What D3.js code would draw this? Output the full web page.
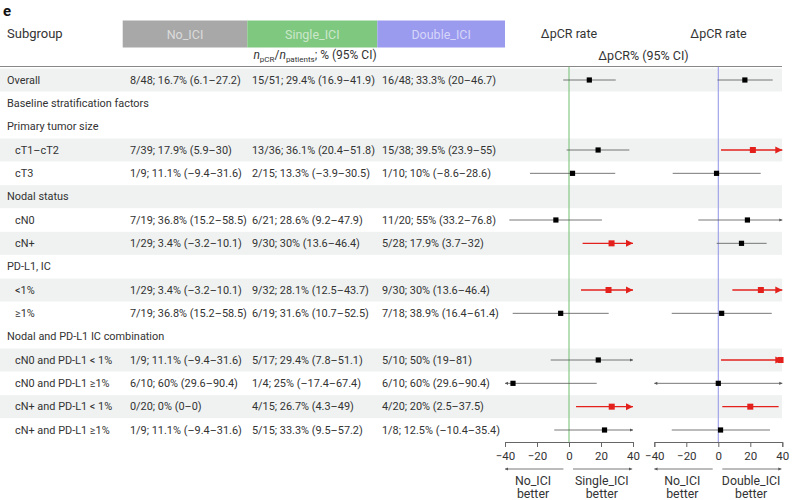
<!DOCTYPE html>
<html>
<head>
<meta charset="utf-8">
<script src="https://cdn.jsdelivr.net/npm/d3@7"></script>
<style>
  body { margin: 0; background: #fff; }
  svg { font-family: Roboto, "Noto Sans", sans-serif; }
</style>
</head>
<body>
<div id="chart"></div>
<script>
let labels = ['Overall', 'Baseline stratification factors', 'Primary tumor size', 'cT1–cT2', 'cT3',
  'Nodal status', 'cN0', 'cN+', 'PD-L1, IC', '<1%', '≥1%', 'Nodal and PD-L1 IC combination',
  'cN0 and PD-L1 < 1%', 'cN0 and PD-L1 ≥1%', 'cN+ and PD-L1 < 1%', 'cN+ and PD-L1 ≥1%'];
let indented = [0, 0, 0, 1, 1, 0, 1, 1, 0, 1, 1, 0, 1, 1, 1, 1];
let shaded = [1, 0, 0, 1, 0, 1, 0, 1, 0, 1, 0, 0, 1, 0, 1, 0];

let groups = ['No_ICI', 'Single_ICI', 'Double_ICI'];

let noIci = ['8/48; 16.7% (6.1–27.2)', '', '', '7/39; 17.9% (5.9–30)', '1/9; 11.1% (–9.4–31.6)', '',
  '7/19; 36.8% (15.2–58.5)', '1/29; 3.4% (–3.2–10.1)', '', '1/29; 3.4% (–3.2–10.1)', '7/19; 36.8% (15.2–58.5)', '',
  '1/9; 11.1% (–9.4–31.6)', '6/10; 60% (29.6–90.4)', '0/20; 0% (0–0)', '1/9; 11.1% (–9.4–31.6)'];
let singleIci = ['15/51; 29.4% (16.9–41.9)', '', '', '13/36; 36.1% (20.4–51.8)', '2/15; 13.3% (–3.9–30.5)', '',
  '6/21; 28.6% (9.2–47.9)', '9/30; 30% (13.6–46.4)', '', '9/32; 28.1% (12.5–43.7)', '6/19; 31.6% (10.7–52.5)', '',
  '5/17; 29.4% (7.8–51.1)', '1/4; 25% (–17.4–67.4)', '4/15; 26.7% (4.3–49)', '5/15; 33.3% (9.5–57.2)'];
let doubleIci = ['16/48; 33.3% (20–46.7)', '', '', '15/38; 39.5% (23.9–55)', '1/10; 10% (–8.6–28.6)', '',
  '11/20; 55% (33.2–76.8)', '5/28; 17.9% (3.7–32)', '', '9/30; 30% (13.6–46.4)', '7/18; 38.9% (16.4–61.4)', '',
  '5/10; 50% (19–81)', '6/10; 60% (29.6–90.4)', '4/20; 20% (2.5–37.5)', '1/8; 12.5% (–10.4–35.4)'];

// delta pCR (est, lo, hi), null for heading rows
let singleDiff = [[12.7, -3.6, 29.2], null, null, [18.2, -1.5, 37.7], [2.2, -24.4, 28.9], null,
  [-8.2, -37.3, 20.6], [26.6, 8.5, 44.7], null, [24.7, 7.5, 41.9], [-5.2, -35.2, 24.8], null,
  [18.3, -11.4, 48], [-35, -87.3, 17.3], [26.7, 4.4, 49], [22.2, -9.2, 53.6]];
let doubleDiff = [[16.6, -0.5, 34], null, null, [21.6, 1.7, 41.5], [-1.1, -28.5, 26.5], null,
  [18.2, -12.5, 48.9], [14.5, -1, 30.2], null, [26.6, 8.8, 44.4], [2.1, -29.1, 33.4], null,
  [38.9, 1.7, 76], [0, -58, 58], [20, 2.5, 37.7], [1.4, -29.1, 32.3]];

let ticks = [-40, -20, 0, 20, 40];

let width = 800;
let height = 500;
let txt = '#333';

let svg = d3.select('#chart').append('svg')
  .attr('width', width)
  .attr('height', height);

let y = d3.scalePoint().domain(d3.range(labels.length)).range([80, 430]);
let rowH = 23;

// shaded bands
svg.append('g').selectAll('rect')
  .data(d3.range(labels.length).filter(i => shaded[i]))
  .enter().append('rect')
  .attr('x', 0)
  .attr('y', i => y(i) - rowH / 2)
  .attr('width', 782)
  .attr('height', rowH)
  .attr('fill', '#eff2f1');

svg.append('line')
  .attr('x1', 0).attr('x2', 782)
  .attr('y1', 66.5).attr('y2', 66.5)
  .attr('stroke', '#888').attr('stroke-width', 1);

svg.append('text')
  .attr('x', 3).attr('y', 16)
  .attr('font-size', 15).attr('font-weight', 'bold')
  .attr('fill', '#111')
  .text('e');

svg.append('text')
  .attr('x', 7).attr('y', 38)
  .attr('font-size', 13).attr('fill', txt)
  .text('Subgroup');

// group header boxes
let boxX = d3.scaleOrdinal().domain(groups).range([122.7, 247.3, 377.3]);
let boxW = {No_ICI: 124.6, Single_ICI: 130, Double_ICI: 127.7};
let boxC = d3.scaleOrdinal().domain(groups).range(['#a8a8a8', '#7fc87f', '#9a9aef']);

let hdr = svg.append('g').selectAll('g')
  .data(groups)
  .enter().append('g');
hdr.append('rect')
  .attr('x', d => boxX(d))
  .attr('y', 20.5)
  .attr('width', d => boxW[d])
  .attr('height', 27)
  .attr('fill', d => boxC(d));
hdr.append('text')
  .attr('x', d => boxX(d) + boxW[d] / 2)
  .attr('y', 38.5)
  .attr('text-anchor', 'middle')
  .attr('font-size', 12.5)
  .attr('fill', '#fff')
  .attr('fill-opacity', 0.6)
  .text(d => d);

let sub = svg.append('text')
  .attr('x', 315).attr('y', 59)
  .attr('text-anchor', 'middle')
  .attr('font-size', 12).attr('fill', txt);
sub.append('tspan').attr('font-style', 'italic').text('n');
sub.append('tspan').attr('font-size', 8).attr('dy', 3).text('pCR');
sub.append('tspan').attr('dy', -3).text('/');
sub.append('tspan').attr('font-style', 'italic').text('n');
sub.append('tspan').attr('font-size', 8).attr('dy', 3).text('patients');
sub.append('tspan').attr('dy', -3).text('; % (95% CI)');

svg.append('text')
  .attr('x', 569).attr('y', 37.5)
  .attr('text-anchor', 'middle').attr('font-size', 12.5).attr('fill', txt)
  .text('ΔpCR rate');
svg.append('text')
  .attr('x', 718.5).attr('y', 37.5)
  .attr('text-anchor', 'middle').attr('font-size', 12.5).attr('fill', txt)
  .text('ΔpCR rate');
svg.append('text')
  .attr('x', 643.5).attr('y', 59.5)
  .attr('text-anchor', 'middle').attr('font-size', 12.5).attr('fill', txt)
  .text('ΔpCR% (95% CI)');

// table text
let rows = svg.append('g').selectAll('g')
  .data(labels)
  .enter().append('g')
  .attr('transform', (d, i) => 'translate(0,' + (y(i) + 3.8) + ')')
  .attr('font-size', 10.9)
  .attr('fill', txt);
rows.append('text')
  .attr('x', (d, i) => indented[i] ? 15 : 7)
  .text(d => d);
rows.append('text').attr('x', 130).text((d, i) => noIci[i]);
rows.append('text').attr('x', 252).text((d, i) => singleIci[i]);
rows.append('text').attr('x', 382).text((d, i) => doubleIci[i]);

// forest panels
let red = '#e3201c';
let panels = [
  {data: singleDiff, x: d3.scaleLinear().domain([-40, 40]).range([505, 633]), ref: '#7cc47c',
    left: 'No_ICI', right: 'Single_ICI'},
  {data: doubleDiff, x: d3.scaleLinear().domain([-40, 40]).range([654.3, 782.3]), ref: '#9a9aea',
    left: 'No_ICI', right: 'Double_ICI'},
];

svg.append('defs').append('marker')
  .attr('id', 'ah')
  .attr('viewBox', '0 0 10 10')
  .attr('refX', 10).attr('refY', 5)
  .attr('markerWidth', 4).attr('markerHeight', 4)
  .attr('orient', 'auto-start-reverse')
  .append('path')
  .attr('d', 'M0,0L10,5L0,10Z')
  .attr('fill', '#555');

panels.forEach(function(p) {
  let x = p.x;
  let g = svg.append('g');

  g.append('line')
    .attr('x1', x(0)).attr('x2', x(0))
    .attr('y1', 67).attr('y2', 442)
    .attr('stroke', p.ref).attr('stroke-width', 1.1);

  let axis = d3.axisBottom(x)
    .tickValues(ticks)
    .tickSize(5)
    .tickSizeOuter(5)
    .tickPadding(5);
  let ax = g.append('g')
    .attr('transform', 'translate(0,442)')
    .call(axis);
  ax.selectAll('path, line').attr('stroke', '#666');
  ax.selectAll('text').attr('font-size', 11.5).attr('fill', txt)
    .attr('font-family', 'Roboto, "Noto Sans", sans-serif');

  let items = p.data.map((d, i) => ({d: d, i: i})).filter(o => o.d);
  items.forEach(function(o) {
    let est = o.d[0], lo = o.d[1], hi = o.d[2];
    let sig = lo > 0;
    let col = sig ? red : '#555';
    let cy = y(o.i);
    let x1 = x(Math.max(lo, -40)), x2 = x(Math.min(hi, 40));
    g.append('line')
      .attr('x1', x1).attr('x2', x2)
      .attr('y1', cy).attr('y2', cy)
      .attr('stroke', col)
      .attr('stroke-width', sig ? 1.3 : 0.8);
    let al = sig ? 7 : 3, ah = sig ? 3.5 : 1.6;
    if (hi > 40) {
      g.append('path')
        .attr('d', 'M' + x2 + ',' + cy + 'l' + (-al) + ',' + (-ah) + 'v' + (2 * ah) + 'Z')
        .attr('fill', col);
    }
    if (lo < -40) {
      g.append('path')
        .attr('d', 'M' + x1 + ',' + cy + 'l' + al + ',' + (-ah) + 'v' + (2 * ah) + 'Z')
        .attr('fill', col);
    }
    let s = sig ? 6 : 5.2;
    g.append('rect')
      .attr('x', x(est) - s / 2).attr('y', cy - s / 2)
      .attr('width', s).attr('height', s)
      .attr('fill', sig ? red : '#000');
  });

  // favour arrows
  g.append('line')
    .attr('x1', x(-3.5)).attr('x2', x(-40))
    .attr('y1', 469).attr('y2', 469)
    .attr('stroke', '#555').attr('stroke-width', 0.8)
    .attr('marker-end', 'url(#ah)');
  g.append('line')
    .attr('x1', x(2.5)).attr('x2', x(39.5))
    .attr('y1', 469).attr('y2', 469)
    .attr('stroke', '#555').attr('stroke-width', 0.8)
    .attr('marker-end', 'url(#ah)');

  let lab = [[p.left, x(-22.5)], [p.right, x(20.5)]];
  lab.forEach(function(l) {
    let t = g.append('text')
      .attr('text-anchor', 'middle')
      .attr('font-size', 12.3).attr('fill', txt);
    t.append('tspan').attr('x', l[1]).attr('y', 485).text(l[0]);
    t.append('tspan').attr('x', l[1]).attr('y', 497.5).text('better');
  });
});
</script>
</body>
</html>
